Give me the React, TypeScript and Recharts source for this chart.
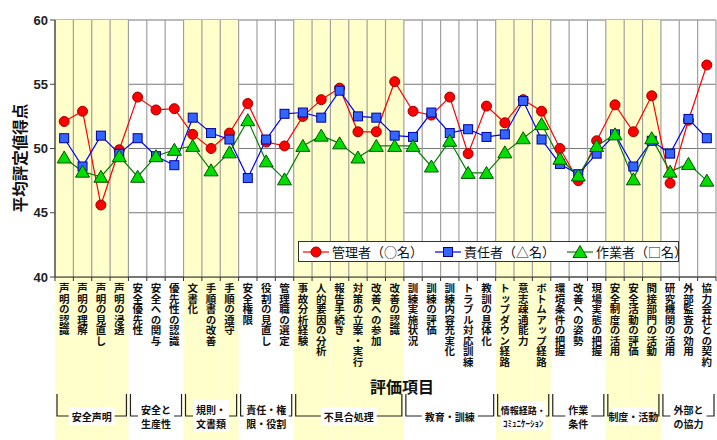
import React from "react";
import { ComposedChart, Line, XAxis, YAxis, CartesianGrid, ReferenceArea, ReferenceLine, Legend, Label } from "recharts";

// 評価項目 (36 items)
const items = [
  "声明の認識", "声明の理解", "声明の見直し", "声明の浸透",
  "安全優先性", "安全への関与", "優先性の認識",
  "文書化", "手順書の改善", "手順の遵守",
  "安全権限", "役割の見直し", "管理職の選定",
  "事故分析経験", "人的要因の分析", "報告手続き", "対策の立案・実行", "改善への参加", "改善の認識",
  "訓練実施状況", "訓練の評価", "訓練内容充実化", "トラブル対応訓練", "教訓の具体化",
  "トップダウン経路", "意志疎通能力", "ボトムアップ経路",
  "環境条件の把握", "改善への姿勢", "現場実態の把握",
  "安全制度の活用", "安全活動の評価", "間接部門の活動",
  "研究機関の活用", "外部監査の効用", "協力会社との契約",
];

const kanri = [
  52.1, 52.9, 45.6, 49.9, 54.0, 53.0, 53.1, 51.1, 50.0, 51.2, 53.5, 50.5,
  50.2, 52.5, 53.8, 54.7, 51.3, 51.3, 55.2, 52.9, 52.6, 54.0, 49.6, 53.3,
  52.0, 53.8, 52.9, 50.0, 47.5, 50.6, 53.4, 51.3, 54.1, 47.3, 52.2, 56.5,
];
const sekinin = [
  50.8, 48.6, 51.0, 49.6, 50.8, 49.4, 48.7, 52.4, 51.2, 50.7, 47.7, 50.7,
  52.7, 52.8, 52.4, 54.5, 52.5, 52.4, 51.0, 50.9, 52.8, 51.2, 51.5, 50.9,
  51.1, 53.7, 50.7, 48.8, 48.0, 49.6, 51.1, 48.6, 50.6, 49.6, 52.3, 50.8,
];
const sagyo = [
  49.3, 48.2, 47.8, 49.4, 47.8, 49.4, 49.9, 50.2, 48.3, 49.7, 52.2, 49.0,
  47.6, 50.2, 51.0, 50.4, 49.3, 50.2, 50.2, 50.2, 48.6, 50.6, 48.1, 48.1,
  49.7, 50.8, 51.9, 49.2, 47.9, 50.2, 51.1, 47.6, 50.8, 48.2, 48.8, 47.5,
];

// 項目グループ
const groupLabels = [
  "安全声明", "安全と\n生産性", "規則・\n文書類", "責任・権\n限・役割", "不具合処理",
  "教育・訓練", "情報経路・\nｺﾐｭﾆｹｰｼｮﾝ", "作業\n条件", "制度・活動", "外部と\nの協力",
];
const groupSizes = [4, 3, 3, 3, 6, 5, 3, 3, 3, 3];
const groupShaded = [true, false, true, false, true, false, true, false, true, false];

const yTicks = [40, 45, 50, 55, 60];

const seriesNames = ["管理者（○名）", "責任者（△名）", "作業者（□名）"];

const rows = items.map((name, i) => ({
  x: i + 0.5,
  name,
  kanri: kanri[i],
  sekinin: sekinin[i],
  sagyo: sagyo[i],
}));

const groupStarts = groupSizes.map((_, g) => groupSizes.slice(0, g).reduce((a, b) => a + b, 0));
const boundaries = items.map((_, i) => i).concat(items.length);

const W = 717;
const H = 440;
const Y_W = 55;
const R_M = 1;
const PLOT_W = W - Y_W - R_M;
const JP = "'Noto Sans CJK JP', 'Noto Sans', sans-serif";
const NUM = "'Liberation Sans Narrow', 'Liberation Sans', Arial, sans-serif";

const YELLOW = "#FFFFCC";

function Circle({ cx, cy }: { cx: number; cy: number }) {
  return <circle cx={cx} cy={cy} r={5} fill="#FF0000" stroke="#A00000" strokeWidth={1} />;
}
function Square({ cx, cy }: { cx: number; cy: number }) {
  return <rect x={cx - 4.5} y={cy - 4.5} width={9} height={9} fill="#3366FF" stroke="#0000A0" strokeWidth={1} />;
}
function Triangle({ cx, cy }: { cx: number; cy: number }) {
  return (
    <polygon
      points={`${cx},${cy - 6.5} ${cx - 7},${cy + 5.5} ${cx + 7},${cy + 5.5}`}
      fill="#00DD00"
      stroke="#005500"
      strokeWidth={1}
    />
  );
}

const series = [
  { key: "kanri", color: "#FF0000", Shape: Circle },
  { key: "sekinin", color: "#0000FF", Shape: Square },
  { key: "sagyo", color: "#008000", Shape: Triangle },
];

const bw = PLOT_W / items.length;

function ItemTick(props: any) {
  const { x, y, payload } = props;
  const k = payload.value as number;
  const g = groupStarts.findIndex((s, gi) => k >= s && k < s + groupSizes[gi]);
  return (
    <g>
      {k < items.length && groupShaded[g] && (
        <rect x={x} y={y + 1} width={bw} height={H} fill={YELLOW} />
      )}
      <line x1={x} x2={x} y1={y} y2={y + 4} stroke="#333" strokeWidth={1} />
      {k < items.length && (
        <text
          x={x + bw / 2}
          y={y + 6}
          style={{ writingMode: "vertical-rl" }}
          fontFamily={JP}
          fontWeight={700}
          fontSize={10.5}
          fill="#111"
          textAnchor="start"
        >
          {items[k]}
        </text>
      )}
    </g>
  );
}

function GroupTick(props: any) {
  const { x, y, payload } = props;
  const g = groupStarts.indexOf(payload.value);
  if (g < 0) return null;
  const x1 = x + 2;
  const x2 = x + groupSizes[g] * bw - 2;
  const top = y + 2;
  const base = y + 24;
  const lines = groupLabels[g].split("\n");
  const small = groupLabels[g].length > 10;
  const fs = small ? 9 : 10;
  const lh = small ? 13 : 14.5;
  const cx = (x1 + x2) / 2;
  const maxLen = Math.max(...lines.map((l) => l.length));
  const boxW = Math.min(x2 - x1 - 6, (small ? 9.5 : 10) * maxLen + 6);
  const boxH = lines.length * lh + 3;
  return (
    <g>
      {g === 0 && (
        <text x={402} y={386} textAnchor="middle" dominantBaseline="central" fontFamily={JP} fontWeight={700} fontSize={16} fill="#111">
          評価項目
        </text>
      )}
      <polyline
        points={`${x1},${top} ${x1},${base} ${x2},${base} ${x2},${top}`}
        fill="none"
        stroke="#222"
        strokeWidth={1.2}
      />
      <rect x={cx - boxW / 2} y={base - boxH / 2} width={boxW} height={boxH} fill="#fff" />
      <text
        x={cx}
        y={base - ((lines.length - 1) / 2) * lh}
        textAnchor="middle"
        dominantBaseline="central"
        fontFamily={JP}
        fontWeight={700}
        fontSize={fs}
        fill="#111"
      >
        {lines.map((l, i) => (
          <tspan key={i} x={cx} dy={i === 0 ? 0 : lh}>
            {l}
          </tspan>
        ))}
      </text>
    </g>
  );
}

function LegendBox() {
  return (
    <div
      style={{
        display: "flex",
        alignItems: "center",
        height: 21,
        width: 381,
        boxSizing: "border-box",
        border: "1px solid #333",
        background: "#fff",
        fontFamily: JP,
        fontSize: 13,
        color: "#111",
        paddingLeft: 4,
      }}
    >
      {series.map((s, i) => (
        <div key={s.key} style={{ display: "flex", alignItems: "center", marginRight: i === 2 ? 0 : 12 }}>
          <svg width={26} height={16} style={{ marginRight: 3 }}>
            <line x1={0} x2={26} y1={8} y2={8} stroke={s.color} strokeWidth={1.2} />
            <s.Shape cx={13} cy={8} />
          </svg>
          <span style={{ whiteSpace: "nowrap" }}>{seriesNames[i]}</span>
        </div>
      ))}
    </div>
  );
}

export default function App() {
  return (
    <div style={{ position: "absolute", left: 0, top: 0, width: W, height: H, background: "#fff" }}>
      <ComposedChart width={W} height={H} data={rows} margin={{ top: 20, right: R_M, bottom: 0, left: 0 }}>
        {groupStarts.map((s, g) =>
          groupShaded[g] ? (
            <ReferenceArea
              key={`a${g}`}
              x1={s}
              x2={s + groupSizes[g]}
              fill={YELLOW}
              fillOpacity={1}
              stroke="none"
            />
          ) : null
        )}
        <CartesianGrid vertical={false} stroke="#777" strokeWidth={1.2} />
        {boundaries.map((k) => (
          <ReferenceLine key={`v${k}`} x={k} stroke="#a0a0a0" strokeWidth={1.2} />
        ))}
        <XAxis
          type="number"
          dataKey="x"
          domain={[0, items.length]}
          ticks={boundaries}
          interval={0}
          allowDataOverflow
          tickLine={false}
          tickSize={0}
          tickMargin={0}
          height={115}
          axisLine={{ stroke: "#333", strokeWidth: 1.2 }}
          tick={(p: any) => <ItemTick {...p} />}
        />
        <XAxis
          xAxisId="grp"
          type="number"
          dataKey="x"
          domain={[0, items.length]}
          ticks={groupStarts}
          interval={0}
          allowDataOverflow
          axisLine={false}
          tickLine={false}
          tickSize={0}
          tickMargin={0}
          height={48}
          tick={(p: any) => <GroupTick {...p} />}
        />
        <YAxis
          type="number"
          domain={[40, 60]}
          ticks={yTicks}
          interval={0}
          width={Y_W}
          tickSize={5}
          tickMargin={2}
          axisLine={{ stroke: "#444", strokeWidth: 1.2 }}
          tickLine={{ stroke: "#444" }}
          tick={{ fontSize: 13, fontWeight: 700, fill: "#222", fontFamily: NUM }}
        >
          <Label
            content={() => (
              <text
                x={19}
                y={158}
                transform="rotate(-90 19 158)"
                textAnchor="middle"
                dominantBaseline="central"
                fontFamily={JP}
                fontWeight={700}
                fontSize={15.5}
                fill="#111"
              >
                平均評定値得点
              </text>
            )}
          />
        </YAxis>
        <Legend
          layout="horizontal"
          verticalAlign="middle"
          align="center"
          wrapperStyle={{ left: 298, top: 241, width: 381 }}
          content={() => <LegendBox />}
        />
        {series.map((s) => (
          <Line
            key={s.key}
            type="linear"
            dataKey={s.key}
            stroke={s.color}
            strokeWidth={1.2}
            isAnimationActive={false}
            dot={(p: any) => <s.Shape key={`${s.key}${p.index}`} cx={p.cx} cy={p.cy} />}
            activeDot={false}
          />
        ))}
      </ComposedChart>
    </div>
  );
}
